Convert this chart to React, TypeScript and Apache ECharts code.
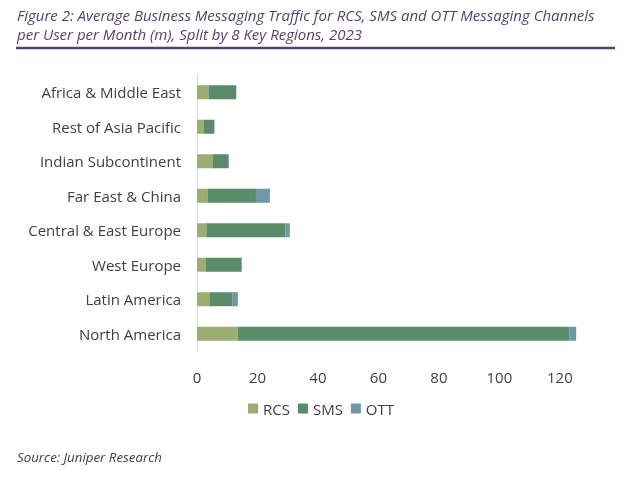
import React, { useEffect, useRef } from "react";
import * as echarts from "echarts";

const categories = [
  "Africa & Middle East",
  "Rest of Asia Pacific",
  "Indian Subcontinent",
  "Far East & China",
  "Central & East Europe",
  "West Europe",
  "Latin America",
  "North America",
];
const rcs = [3.8, 2.3, 5.1, 3.5, 3.1, 2.8, 4.1, 13.4];
const sms = [9.1, 3.4, 5.3, 16.0, 26.2, 11.9, 7.7, 109.8];
const ott = [0.1, 0.1, 0.2, 4.6, 1.4, 0.2, 1.7, 2.2];
const seriesNames = ["RCS", "SMS", "OTT"];
const colors = ["#9cae6f", "#5b8c69", "#6e97a8"];

const titleLines = [
  "Figure 2: Average Business Messaging Traffic for RCS, SMS and OTT Messaging Channels",
  "per User per Month (m), Split by 8 Key Regions, 2023",
];
const sourceText = "Source: Juniper Research";

export default function App() {
  const ref = useRef<HTMLDivElement>(null);
  useEffect(() => {
    if (!ref.current) return;
    const chart = echarts.init(ref.current, undefined, { renderer: "svg" });
    const font = "'Open Sans', 'Noto Sans', sans-serif";
    const data = [rcs, sms, ott];
    chart.setOption({
      animation: false,
      textStyle: { fontFamily: font },
      graphic: [
        ...titleLines.map((t, i) => ({
          type: "text",
          x: 17,
          y: 15 + i * 19,
          style: {
            text: t,
            fontFamily: font,
            fontStyle: "italic",
            fontSize: 15,
            fill: "#583f6d",
            verticalAlign: "middle",
          },
        })),
        {
          type: "line",
          shape: { x1: 16, y1: 48, x2: 615, y2: 48 },
          style: { stroke: "#583f6d", lineWidth: 2.5 },
        },
        {
          type: "text",
          left: 17,
          top: 450,
          style: {
            text: sourceText,
            fontFamily: font,
            fontStyle: "italic",
            fontSize: 13.3,
            fill: "#404040",
          },
        },
      ],
      legend: {
        data: seriesNames,
        top: 396,
        left: 243,
        icon: "rect",
        itemWidth: 10,
        itemHeight: 10,
        itemGap: 8,
        textStyle: { fontFamily: font, fontSize: 15, color: "#404040" },
      },
      grid: { left: 197, right: 47, top: 75, bottom: 126, containLabel: false },
      xAxis: {
        type: "value",
        min: 0,
        max: 126,
        interval: 20,
        axisLine: { show: false },
        axisTick: { show: false },
        splitLine: { show: false },
        axisLabel: {
          fontFamily: font,
          fontSize: 15,
          color: "#404040",
          margin: 18,
          formatter: (v: number) => (v % 20 === 0 ? String(v) : ""),
        },
      },
      yAxis: {
        type: "category",
        data: categories,
        inverse: true,
        axisLine: { show: true, lineStyle: { color: "#d9d9d9", width: 1 } },
        axisTick: { show: false },
        axisLabel: { fontFamily: font, fontSize: 15, color: "#404040", margin: 16 },
      },
      series: seriesNames.map((name, i) => ({
        name,
        type: "bar",
        stack: "total",
        data: data[i],
        barWidth: 14,
        itemStyle: { color: colors[i] },
      })),
    });
    return () => chart.dispose();
  }, []);
  return (
    <div
      ref={ref}
      style={{ position: "fixed", left: 0, top: 0, width: 625, height: 477 }}
    />
  );
}
